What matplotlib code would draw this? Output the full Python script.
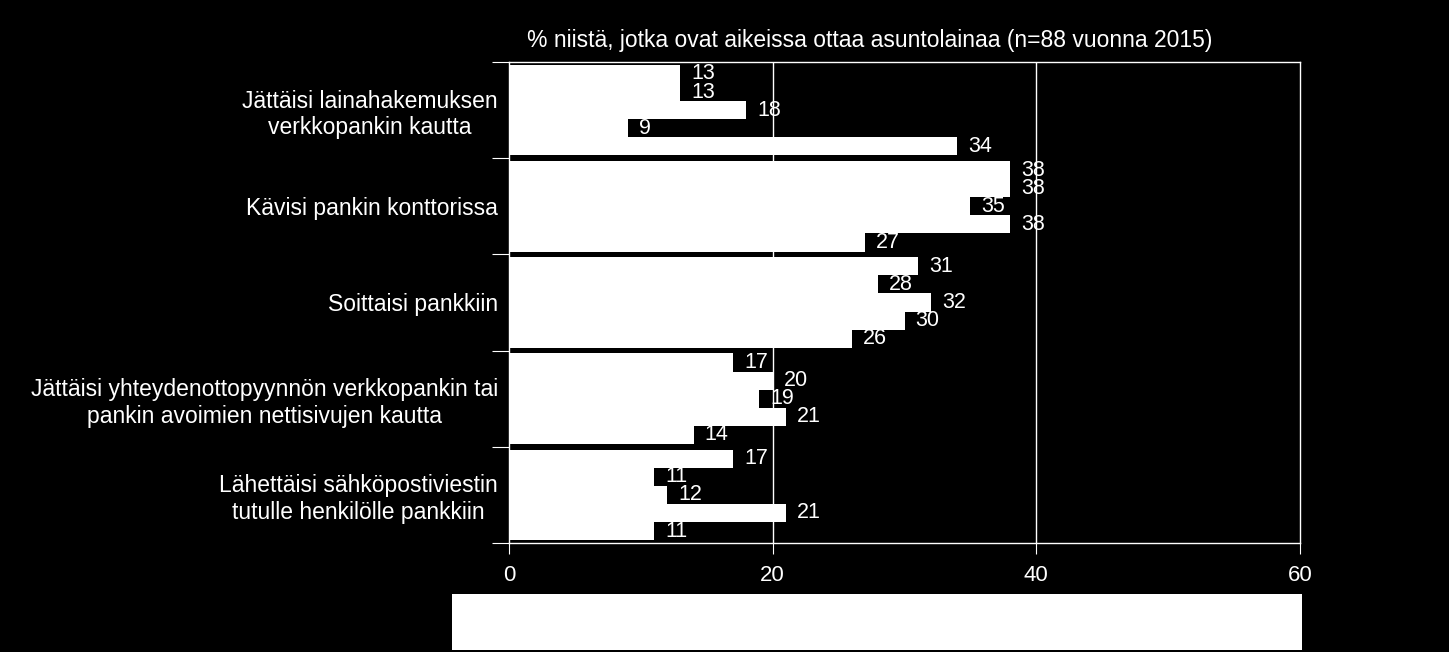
import numpy as np
import matplotlib.pyplot as plt
from matplotlib.patches import Rectangle

plt.rcParams['font.family'] = ['Liberation Sans', 'DejaVu Sans']

# Data (top to bottom)
categories = ["Jättäisi lainahakemuksen\nverkkopankin kautta",
              "Kävisi pankin konttorissa",
              "Soittaisi pankkiin",
              "Jättäisi yhteydenottopyynnön verkkopankin tai\npankin avoimien nettisivujen kautta",
              "Lähettäisi sähköpostiviestin\ntutulle henkilölle pankkiin"]
series_values = [
    [13, 38, 31, 17, 17],
    [13, 38, 28, 20, 11],
    [18, 35, 32, 19, 12],
    [9, 38, 30, 21, 21],
    [34, 27, 26, 14, 11],
]
x_ticks = [0, 20, 40, 60]
title = "% niistä, jotka ovat aikeissa ottaa asuntolainaa (n=88 vuonna 2015)"

fig = plt.figure(figsize=(14.49, 6.52), dpi=100, facecolor='black')
ax = fig.add_axes([509/1449, 1-543/652, (1300-509)/1449, (543-62)/652])
ax.set_facecolor('black')

n_groups = len(categories)
n_series = len(series_values)
h = 0.188
centers = np.arange(n_groups)

for j, vals in enumerate(series_values):
    y = centers + (j - (n_series - 1) / 2) * h
    ax.barh(y, vals, height=h, color='white', edgecolor='none', zorder=2)
    for yy, v in zip(y, vals):
        ax.annotate(str(v), (v, yy), xytext=(8, 0), textcoords='offset points',
                    va='center', ha='left', color='white', fontsize=15.5, zorder=4)

ax.set_xlim(0, 60)
ax.set_ylim(n_groups - 0.5, -0.5)
ax.set_xticks(x_ticks)
ax.set_xticklabels([str(t) for t in x_ticks], color='white', fontsize=16)
ax.tick_params(axis='x', colors='white', direction='out', length=8, pad=8)

ax.set_yticks(np.arange(n_groups + 1) - 0.5)
ax.set_yticklabels([])
ax.set_yticks(centers, minor=True)
ax.set_yticklabels(categories, minor=True, color='white', fontsize=16.5, ha='right', multialignment='center')
ax.tick_params(axis='y', which='major', colors='white', direction='out', length=12)
ax.tick_params(axis='y', which='minor', length=0, pad=8)

for gx in [20, 40]:
    ax.axvline(gx, color='white', lw=1, zorder=3)
for s in ax.spines.values():
    s.set_color('white')
    s.set_linewidth(1)

fig.text(870/1449, 1-40/652, title, color='white', fontsize=16.5, ha='center', va='center')

# empty legend box
fig.patches.append(Rectangle((452/1449, 1-650/652), (1302-452)/1449, (650-594)/652,
                             transform=fig.transFigure, facecolor='white', edgecolor='none'))

fig.savefig('out.png', dpi=100, facecolor='black')
